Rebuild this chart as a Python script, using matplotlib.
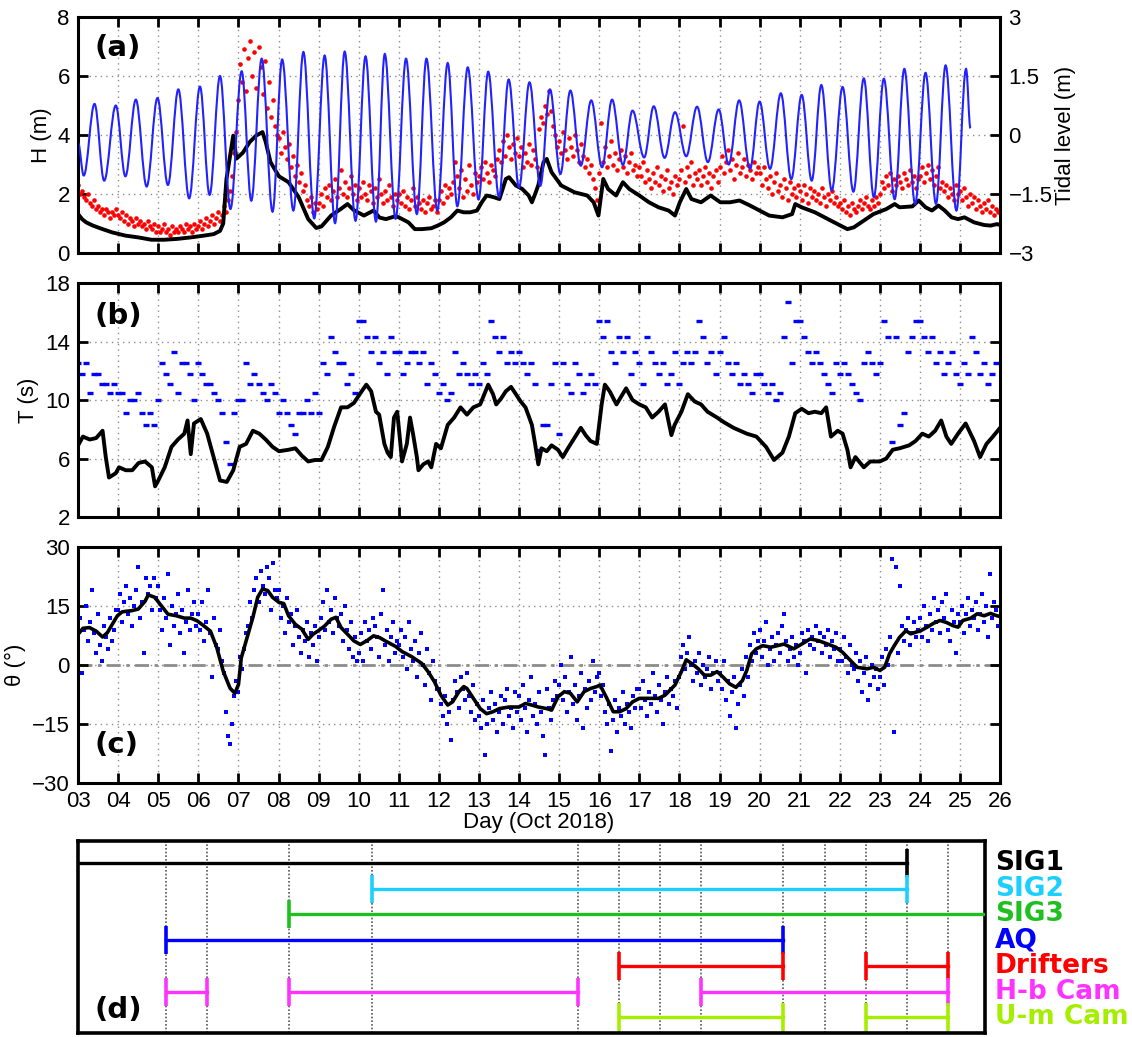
import numpy as np
import matplotlib.pyplot as plt
from matplotlib.path import Path
from matplotlib.patches import PathPatch

plt.rcParams['font.family'] = ['Liberation Sans', 'DejaVu Sans']
plt.rcParams['font.size'] = 16

# ---- tidal level (m): start point, alternating low / high waters, end point ----
tide_day = [3.00, 3.14, 3.41, 3.65, 3.94, 4.18, 4.44, 4.71, 4.98, 5.24, 5.50, 5.77,
            6.04, 6.28, 6.54, 6.80, 7.08, 7.32, 7.58, 7.85, 8.09, 8.37, 8.62, 8.89,
            9.15, 9.41, 9.65, 9.92, 10.17, 10.43, 10.65, 10.92, 11.18, 11.45, 11.69,
            11.96, 12.22, 12.46, 12.72, 12.99, 13.23, 13.50, 13.74, 14.00, 14.26, 14.53,
            14.77, 15.03, 15.28, 15.54, 15.80, 16.07, 16.32, 16.59, 16.83, 17.12, 17.36,
            17.63, 17.89, 18.17, 18.44, 18.71, 18.98, 19.23, 19.49, 19.76, 20.00, 20.26,
            20.53, 20.79, 21.05, 21.30, 21.54, 21.80, 22.07, 22.34, 22.60, 22.85, 23.10,
            23.37, 23.61, 23.88, 24.14, 24.40, 24.64, 24.91, 25.15, 25.26]
tide_level = [-0.20, -1.03, 0.79, -1.16, 0.75, -1.05, 0.90, -1.31, 0.94, -1.27, 1.16, -1.61,
              1.23, -1.52, 1.50, -1.88, 1.62, -1.67, 1.94, -1.95, 1.92, -1.92, 2.11, -2.12,
              2.02, -2.24, 2.12, -2.18, 2.00, -2.20, 2.06, -2.13, 1.94, -2.01, 1.94,
              -1.92, 1.83, -1.81, 1.72, -1.64, 1.61, -1.58, 1.41, -1.33, 1.34, -1.29,
              1.16, -0.99, 1.13, -0.78, 0.88, -0.82, 0.90, -0.76, 0.62, -0.57, 0.73,
              -0.58, 0.58, -0.54, 0.72, -0.69, 0.65, -0.75, 0.88, -0.86, 0.85, -0.86,
              1.06, -1.12, 1.02, -1.16, 1.27, -1.41, 1.22, -1.44, 1.44, -1.58, 1.43,
              -1.63, 1.68, -1.75, 1.58, -1.75, 1.77, -1.92, 1.68, 0.17]

# ---- significant wave height (m), black line ----
h_day = [3.00, 3.10, 3.20, 3.37, 3.61, 3.85, 4.18, 4.50, 4.83, 5.15, 5.48, 5.81, 6.14,
         6.38, 6.54, 6.62, 6.70, 6.78, 6.87, 6.95, 7.11, 7.28, 7.44, 7.60, 7.68, 7.80,
         8.01, 8.25, 8.50, 8.74, 8.94, 9.07, 9.31, 9.55, 9.72, 9.88, 10.13, 10.37, 10.52,
         10.68, 10.92, 11.00, 11.24, 11.40, 11.57, 11.81, 11.97, 12.13, 12.30, 12.46,
         12.62, 12.78, 12.95, 13.07, 13.19, 13.35, 13.51, 13.67, 13.75, 13.92, 14.08,
         14.24, 14.32, 14.40, 14.48, 14.61, 14.69, 14.81, 15.05, 15.38, 15.70, 15.86,
         15.98, 16.10, 16.22, 16.42, 16.59, 16.75, 17.00, 17.24, 17.48, 17.73, 17.89,
         18.01, 18.17, 18.30, 18.54, 18.78, 19.02, 19.26, 19.50, 19.76, 20.00, 20.24,
         20.57, 20.81, 20.89, 21.05, 21.38, 21.62, 21.86, 22.19, 22.35, 22.60, 22.84,
         23.16, 23.37, 23.49, 23.81, 23.97, 24.14, 24.30, 24.46, 24.62, 24.79, 24.95,
         25.11, 25.35, 25.60, 25.76, 25.92, 26.00]
h_val = [1.32, 1.15, 1.04, 0.93, 0.81, 0.70, 0.59, 0.53, 0.45, 0.45, 0.48, 0.53, 0.59,
         0.64, 0.75, 1.00, 2.50, 3.20, 3.98, 3.20, 3.40, 3.76, 3.98, 4.10, 3.76, 3.08,
         2.60, 2.40, 1.90, 1.15, 0.85, 0.90, 1.27, 1.49, 1.66, 1.45, 1.27, 1.44, 1.20,
         1.15, 1.25, 1.21, 1.04, 0.81, 0.81, 0.84, 0.93, 1.04, 1.21, 1.44,
         1.38, 1.38, 1.44, 1.72, 1.95, 1.90, 1.83, 2.51, 2.57, 2.29, 2.17,
         1.95, 1.72, 2.00, 2.30, 3.08, 3.19, 2.74, 2.29, 2.06, 1.95, 1.72,
         1.27, 2.51, 2.17, 1.95, 2.40, 2.17, 1.95, 1.72, 1.55, 1.44, 1.27,
         1.72, 2.17, 1.83, 1.72, 1.95, 1.72, 1.72, 1.78, 1.61, 1.44, 1.27,
         1.21, 1.32, 1.66, 1.55, 1.38, 1.21, 1.04, 0.81, 0.87, 1.10, 1.32,
         1.49, 1.66, 1.55, 1.58, 1.78, 1.55, 1.44, 1.61, 1.44, 1.21, 1.15,
         1.21, 1.04, 0.95, 0.93, 0.98, 0.95]

# ---- maximum wave height (m), red dots, one every 0.05 day from 3 Oct ----
dot_step = 0.05
red_h = [
    2.3, 2.0, 2.1, 1.9, 1.8, 2.0, 1.7, 1.6, 1.8, 1.5, 1.6, 1.4, 1.5, 1.3, 1.5, 1.4, 1.2, 1.4, 1.3, 1.5,
    1.3, 1.2, 1.4, 1.1, 1.3, 1.0, 1.2, 1.1, 0.9, 1.2, 1.0, 1.1, 0.9, 1.0, 0.8, 1.1, 0.9, 0.8, 1.0, 0.7,
    0.9, 0.7, 0.8, 1.0, 0.7, 0.8, 0.6, 0.9, 0.7, 0.8, 0.7, 0.9, 0.8, 0.7, 1.0, 0.8, 0.9, 0.7, 1.0, 0.8,
    0.9, 1.1, 0.8, 1.0, 1.2, 0.9, 1.1, 1.3, 1.0, 1.2, 1.4, 1.1, 1.3, 1.6, 1.4, 1.8, 2.1, 2.6, 3.4, 4.1,
    5.2, 6.4, 5.8, 6.9, 5.5, 6.6, 7.2, 6.0, 6.8, 5.6, 7.0, 6.3, 5.4, 6.5, 4.9, 5.8, 4.6, 5.2, 4.3, 4.0,
    3.9, 3.4, 4.1, 3.6, 3.2, 3.7, 2.9, 3.3, 2.6, 3.0, 2.4, 2.7, 2.1, 2.3, 1.8, 1.6, 1.9, 1.4, 1.7, 1.5,
    1.7, 2.0, 1.6, 2.2, 1.9, 2.3, 1.8, 2.1, 2.5, 1.9, 2.2, 2.8, 2.0, 2.4, 1.9, 2.2, 2.6, 2.0, 2.3, 1.8,
    2.2, 1.9, 2.4, 2.0, 1.8, 2.3, 2.1, 1.7, 2.2, 1.9, 2.5, 2.0, 1.7, 2.1, 1.8, 2.3, 1.9, 1.6, 2.0, 1.8,
    2.0, 1.7, 2.1, 1.6, 1.9, 1.5, 1.8, 2.2, 1.6, 1.9, 1.7, 1.5, 1.8, 1.4, 1.7, 1.9, 1.5, 1.6, 1.8, 1.4,
    1.8, 2.1, 1.7, 2.3, 1.9, 2.2, 2.0, 2.4, 3.1, 2.6, 2.2, 2.8, 1.9, 2.5, 2.1, 3.0, 2.3, 2.0, 2.7, 2.4,
    2.6, 2.9, 2.5, 3.1, 2.7, 2.4, 3.0, 2.8, 2.6, 3.2, 3.5, 3.1, 3.8, 3.3, 4.0, 3.6, 3.2, 3.7, 3.4, 3.9,
    3.3, 3.6, 2.9, 3.4, 3.1, 3.7, 3.0, 3.5, 3.2, 2.9, 4.2, 4.6, 4.4, 5.0, 4.7, 5.5, 4.8, 4.3, 4.0, 3.6,
    3.8, 3.4, 4.1, 3.5, 3.2, 3.9, 3.6, 3.3, 4.0, 3.5, 3.1, 3.7, 3.3, 2.9, 3.2, 2.7, 3.0, 2.5, 2.2, 1.8,
    2.7, 4.4, 3.1, 3.6, 2.9, 3.3, 3.8, 3.0, 3.4, 2.8, 3.2, 3.5, 2.9, 3.3, 2.7, 3.1, 3.4, 2.8, 3.0, 2.6,
    2.9, 2.6, 3.1, 2.4, 2.8, 2.5, 2.2, 2.7, 2.4, 2.9, 2.3, 2.6, 2.1, 2.5, 2.8, 2.2, 2.4, 2.0, 2.6, 2.3,
    2.5, 2.8, 4.3, 2.4, 2.9, 2.6, 3.1, 2.3, 2.7, 2.5, 2.8, 2.3, 2.6, 2.9, 2.4, 2.7, 2.2, 2.6, 2.8, 2.4,
    2.9, 3.3, 2.7, 3.1, 3.5, 2.8, 3.2, 2.5, 3.0, 3.4, 2.7, 2.9, 3.2, 2.6, 3.0, 2.8, 2.5, 3.1, 2.7, 2.9,
    2.7, 2.3, 2.9, 2.5, 2.2, 2.6, 2.0, 2.4, 2.7, 2.1, 2.3, 1.9, 2.5, 2.2, 1.8, 2.4, 2.0, 2.2, 1.9, 2.3,
    2.1, 1.8, 2.3, 2.0, 1.7, 2.2, 1.9, 2.1, 1.8, 2.0, 1.7, 2.2, 1.9, 1.6, 2.0, 1.8, 2.1, 1.7, 1.9, 1.6,
    1.7, 1.5, 1.8, 1.4, 1.6, 1.3, 1.7, 1.5, 1.4, 1.6, 1.8, 1.5, 1.7, 1.9, 1.6, 1.5, 1.8, 1.6, 1.9, 1.7,
    2.0, 2.4, 2.2, 2.6, 2.3, 2.7, 2.1, 2.5, 2.3, 2.6, 2.4, 2.2, 2.7, 2.5, 2.3, 2.8, 2.4, 2.6, 2.2, 2.5,
    2.6, 2.9, 2.4, 2.7, 3.0, 2.5, 2.8, 2.3, 2.6, 2.9, 2.2, 2.4, 2.1, 2.3, 1.9, 2.2, 2.0, 1.8, 2.3, 2.0,
    2.1, 1.8, 2.2, 1.9, 1.6, 2.0, 1.7, 1.9, 1.5, 1.8, 1.6, 1.4, 1.7, 1.5, 1.8, 1.4, 1.6, 1.3, 1.5, 1.4]

# ---- mean wave period (s), black line ----
t_day = [3.00, 3.12, 3.29, 3.45, 3.61, 3.69, 3.77, 3.94, 4.02, 4.19, 4.35, 4.51, 4.67,
         4.84, 4.92, 5.00, 5.16, 5.33, 5.49, 5.65, 5.73, 5.81, 5.89, 6.06, 6.22, 6.38,
         6.54, 6.71, 6.87, 7.03, 7.19, 7.36, 7.52, 7.68, 7.85, 8.01, 8.25, 8.42, 8.58,
         8.74, 8.91, 9.07, 9.23, 9.39, 9.56, 9.72, 9.88, 10.05, 10.19, 10.31, 10.43,
         10.51, 10.64, 10.72, 10.80, 10.88, 10.96, 11.04, 11.08, 11.20, 11.28, 11.36,
         11.45, 11.49, 11.61, 11.73, 11.81, 11.93, 12.05, 12.22, 12.38, 12.54, 12.70,
         12.86, 13.03, 13.23, 13.35, 13.43, 13.55, 13.67, 13.80, 13.92, 14.04, 14.16,
         14.32, 14.40, 14.48, 14.56, 14.69, 14.81, 14.97, 15.09, 15.22, 15.38, 15.54,
         15.66, 15.78, 15.94, 16.06, 16.14, 16.26, 16.43, 16.67, 16.83, 17.00, 17.16,
         17.32, 17.48, 17.64, 17.80, 17.88, 18.05, 18.21, 18.38, 18.54, 18.70, 18.94,
         19.10, 19.35, 19.68, 19.92, 20.16, 20.36, 20.57, 20.73, 20.89, 21.05, 21.22,
         21.38, 21.54, 21.66, 21.78, 21.95, 22.07, 22.19, 22.27, 22.39, 22.60, 22.76,
         23.00, 23.16, 23.32, 23.49, 23.73, 23.89, 24.06, 24.22, 24.38, 24.53, 24.66,
         24.78, 24.95, 25.14, 25.35, 25.50, 25.66, 25.82, 26.00]
t_val = [6.9, 7.5, 7.3, 7.4, 7.9, 6.1, 4.7, 5.0, 5.4, 5.2, 5.2, 5.7, 5.8,
         5.4, 4.1, 4.5, 5.4, 6.8, 7.3, 7.7, 8.6, 6.3, 8.4, 8.7, 7.7, 6.1,
         4.5, 4.4, 5.2, 6.8, 7.0, 7.9, 7.7, 7.3, 6.8, 6.5, 6.6, 6.7, 6.2,
         5.8, 5.9, 5.9, 6.8, 8.2, 9.5, 9.5, 9.8, 10.5, 11.05, 10.6, 9.2,
         9.0, 7.0, 6.4, 6.1, 8.8, 9.2, 7.0, 5.8, 7.0, 8.8, 7.6,
         6.1, 5.2, 5.6, 5.8, 5.4, 7.0, 6.7, 8.3, 8.8, 9.5, 9.0,
         9.5, 9.7, 11.05, 10.4, 9.7, 10.1, 10.6, 10.9, 10.4, 9.9, 9.5,
         8.3, 7.0, 5.6, 6.7, 6.5, 6.9, 6.6, 6.1, 6.7, 7.4, 8.1,
         7.6, 7.2, 7.0, 9.7, 11.05, 10.6, 9.7, 10.8, 10.0, 9.7, 9.5,
         8.8, 9.2, 9.7, 7.6, 8.3, 9.2, 10.4, 9.9, 9.7, 9.2, 8.8,
         8.5, 8.1, 7.7, 7.5, 6.8, 5.9, 6.4, 7.5, 9.1, 9.4, 9.1,
         9.2, 9.1, 9.5, 7.5, 7.9, 7.7, 6.6, 5.4, 6.1, 5.4, 5.8,
         5.8, 6.0, 6.6, 6.7, 6.9, 7.2, 7.7, 7.5, 7.9, 8.6, 7.5,
         7.0, 7.7, 8.4, 7.2, 6.1, 7.0, 7.5, 8.1]

# ---- peak wave period (s), blue dots, one every 0.1 day from 3 Oct ----
tp_step = 0.1
tp_dots = [
    12.5, 11.8, 12.5, 10.5, 11.8, 11.8, 11.1, 11.1, 10.5, 11.1,
    10.5, 10.5, 9.1, 10.0, 10.0, 10.5, 9.1, 8.3, 9.1, 8.3,
    10.0, 12.5, 11.8, 11.1, 13.3, 10.5, 12.5, 12.5, 11.8, 10.0,
    12.5, 11.8, 11.1, 11.1, 10.5, 10.0, 9.1, 7.1, 5.6, 9.1,
    10.0, 10.0, 12.5, 11.1, 11.8, 11.1, 10.5, 10.0, 11.1, 10.5,
    9.1, 10.0, 9.1, 8.3, 7.7, 9.1, 9.1, 10.0, 9.1, 10.5,
    9.1, 12.5, 11.8, 14.3, 13.3, 12.5, 12.5, 11.1, 11.8, 10.5,
    15.4, 15.4, 14.3, 13.3, 14.3, 12.5, 13.3, 11.8, 14.3, 13.3,
    13.3, 11.8, 12.5, 13.3, 13.3, 12.5, 13.3, 11.1, 12.5, 11.8,
    10.5, 11.1, 10.0, 10.5, 13.3, 11.8, 12.5, 11.8, 11.1, 11.8,
    11.1, 12.5, 11.8, 15.4, 14.3, 13.3, 14.3, 12.5, 13.3, 12.5,
    13.3, 12.5, 11.8, 12.5, 11.1, 6.6, 8.3, 8.3, 11.1, 12.5,
    7.7, 12.5, 11.1, 10.5, 12.5, 11.8, 10.5, 11.1, 11.8, 11.1,
    15.4, 14.3, 15.4, 13.3, 12.5, 14.3, 13.3, 14.3, 11.8, 13.3,
    12.5, 11.1, 14.3, 13.3, 12.5, 11.8, 12.5, 11.1, 11.8, 13.3,
    11.1, 12.5, 13.3, 12.5, 13.3, 15.4, 14.3, 12.5, 13.3, 11.8,
    13.3, 14.3, 12.5, 11.8, 12.5, 11.1, 11.8, 11.1, 10.5, 11.8,
    11.8, 11.1, 10.5, 11.1, 10.0, 10.5, 14.3, 16.7, 12.5, 15.4,
    15.4, 14.3, 13.3, 12.5, 13.3, 12.5, 11.8, 11.1, 10.5, 12.5,
    11.8, 12.5, 11.8, 11.1, 10.5, 10.0, 12.5, 13.3, 12.5, 11.8,
    12.5, 15.4, 14.3, 7.1, 14.3, 8.3, 9.1, 13.3, 14.3, 15.4,
    15.4, 14.3, 13.3, 14.3, 12.5, 13.3, 11.8, 12.5, 13.3, 11.8,
    11.1, 12.5, 11.8, 14.3, 13.3, 11.8, 12.5, 11.1, 11.8, 12.5]

# ---- mean wave direction (deg), black line ----
th_day = [3.00, 3.12, 3.28, 3.45, 3.61, 3.73, 3.85, 3.98, 4.10, 4.34, 4.50, 4.67, 4.75,
          4.91, 5.08, 5.24, 5.45, 5.65, 5.81, 5.97, 6.14, 6.30, 6.46, 6.62, 6.79, 6.91,
          7.00, 7.07, 7.19, 7.36, 7.48, 7.60, 7.73, 7.85, 8.01, 8.13, 8.25, 8.42, 8.58,
          8.74, 8.86, 8.98, 9.15, 9.31, 9.43, 9.56, 9.72, 9.88, 10.04, 10.21, 10.37,
          10.53, 10.68, 10.92, 11.08, 11.32, 11.57, 11.73, 11.89, 12.05, 12.22, 12.34,
          12.50, 12.62, 12.70, 12.86, 13.03, 13.19, 13.35, 13.51, 13.75, 14.00, 14.16,
          14.32, 14.48, 14.69, 14.81, 14.97, 15.13, 15.28, 15.45, 15.62, 15.78, 15.94,
          16.02, 16.19, 16.35, 16.51, 16.67, 16.83, 17.00, 17.24, 17.48, 17.64, 17.89,
          18.05, 18.17, 18.30, 18.46, 18.62, 18.78, 18.94, 19.10, 19.25, 19.41, 19.57,
          19.68, 19.80, 19.92, 20.08, 20.28, 20.45, 20.61, 20.85, 21.05, 21.26, 21.46,
          21.70, 21.90, 22.07, 22.27, 22.43, 22.68, 22.84, 23.00, 23.12, 23.24, 23.36,
          23.49, 23.65, 23.77, 23.89, 24.02, 24.18, 24.34, 24.50, 24.66, 24.82, 24.95,
          25.07, 25.27, 25.43, 25.60, 25.76, 25.92, 26.00]
th_val = [7.8, 9.3, 9.5, 8.6, 7.1, 8.2, 10.3, 12.5, 13.5, 13.8, 14.2, 16.2, 17.8,
          17.2, 15.0, 12.9, 12.5, 11.9, 11.9, 11.2, 9.9, 8.6, 4.4, -1.6, -5.9, -7.2,
          -5.0, 1.8, 6.1, 12.1, 17.2, 19.3, 18.9, 17.2, 15.9, 15.6, 12.5, 10.3, 9.1,
          6.5, 7.8, 8.6, 9.9, 11.6, 12.1, 9.5, 7.8, 6.1, 5.2, 6.2, 7.4,
          6.9, 6.0, 4.7, 3.4, 2.1, 0.4, -1.7, -4.3, -7.7, -10.2, -9.4,
          -6.8, -5.5, -6.0, -8.5, -11.1, -12.4, -11.9, -11.1, -10.7, -10.7, -9.8,
          -10.2, -10.7, -11.1, -11.5, -8.1, -6.8, -7.2, -9.4, -6.8, -6.0, -5.5,
          -5.1, -8.5, -11.9, -11.9, -11.1, -9.4, -8.5, -8.5, -8.5, -7.7, -5.1,
          -1.7, 1.3, 0.4, -0.9, -2.6, -2.6, -1.7, -3.2, -4.8, -5.7, -4.0,
          -1.4, 2.8, 4.1, 4.9, 4.5, 4.9, 5.3, 4.1, 5.3, 6.6, 6.2,
          5.3, 4.5, 3.2, 1.1, -0.6, -1.0, -0.6, -1.4, -0.6, 2.8, 4.9,
          7.0, 8.7, 7.9, 8.3, 8.7, 9.6, 10.6, 11.3, 10.8, 10.0, 9.6,
          11.3, 11.9, 13.0, 12.5, 13.1, 12.5, 12.3]

# ---- wave direction estimates (deg), blue dots, one every 0.05 day from 3 Oct ----
th_dots = [
    4, 12, -2, 9, 15, 6, 11, 19, 8, 3, 13, 5, 1, 10, 7, 4, 12, 6, 9, 14,
    14, 18, 11, 16, 20, 13, 17, 10, 15, 19, 25, 12, 16, 3, 22, 18, 20, 14, 22, 17,
    20, 14, 9, 17, 12, 23, 5, 15, 10, 13, 18, 8, 14, 3, 11, 19, 9, 13, 16, 10,
    13, 9, 16, 6, 11, 19, 8, -3, 12, 5, 4, 9, 1, -2, -12, -18, -20, -15, -8, -4,
    -7, 2, -1, 4, 8, 10, 16, 12, 19, 22, 16, 24, 20, 18, 25, 22, 14, 26, 19, 17,
    19, 12, 15, 8, 17, 11, 13, 5, 10, 14, 7, 3, 9, 6, 11, 2, 8, 5, 10, 1,
    7, 12, 16, 9, 19, 11, 14, 8, 17, 12, 10, 13, 6, 15, 9, 4, 11, 2, 7, 1,
    3, 8, 1, 11, 6, 9, 4, 12, 10, 7, 2, 13, 19, 5, 9, 1, 7, 11, 3, 6,
    5, 9, 2, 7, -1, 11, 4, 1, 6, -3, 3, 8, 0, -5, 4, -2, -9, 1, -4, -6,
    -6, -10, -13, -8, -15, -12, -19, -9, -4, -7, -11, -3, -6, -9, -2, -8, -12, -5, -14, -10,
    -13, -16, -9, -23, -15, -11, -7, -14, -10, -17, -12, -8, -15, -9, -6, -13, -11, -16, -7, -12,
    -8, -14, -5, -11, -17, -9, -3, -13, -10, -15, -7, -12, -18, -23, -6, -11, -14, -9, -4, -8,
    -5, 0, -9, -3, -12, -7, 2, -10, -5, -14, -8, -2, -16, -6, -11, -4, -9, 1, -7, -3,
    -2, -8, -5, -12, -15, -10, -22, -14, -9, -17, -11, -13, -7, -15, -10, -12, -16, -8, -11, -6,
    -6, -11, -4, -9, -13, -7, -10, -2, -8, -12, -5, -9, -15, -7, -3, -10, -6, -8, -4, -11,
    -3, 2, 5, -1, 3, 7, 0, -4, 1, -2, 3, -5, 0, -3, -1, 2, -6, -2, 1, -4,
    -2, -6, 1, -9, -4, -13, -7, -3, -16, -10, -5, -1, -8, 2, -3, 5, 1, 8, 3, 6,
    9, 2, 6, 11, 0, 4, 7, 1, 5, 8, 3, 10, 13, 6, 1, 4, 7, 2, 5, 0,
    3, 8, 6, -2, 9, 5, 7, 4, 10, 6, 8, 3, 7, 5, 9, 2, 6, 4, 8, 1,
    4, 1, 7, 2, -2, 5, 0, -1, 3, -4, 1, -7, -2, 2, -9, -5, 0, -3, -1, -6,
    -3, 2, -5, 4, 0, 7, 27, -17, 25, 3, 20, 10, 6, 9, 12, 5, 8, 11, 7, 9,
    12, 7, 15, 10, 6, 13, 9, 17, 11, 14, 8, 16, 12, 18, 9, 6, 14, 11, 3, 13,
    11, 15, 8, 13, 17, 10, 14, 12, 16, 9, 13, 18, 11, 15, 7, 23, 12, 16, 14, 10]

# ---- deployment periods (day of October) ----
instruments = ['SIG1', 'SIG2', 'SIG3', 'AQ', 'Drifters', 'H-b Cam', 'U-m Cam']
inst_colors = ['#000000', '#1ccfff', '#1fbf1f', '#0000ff', '#ff0000', '#ff33ff', '#a6ee00']
inst_periods = [[(2, 23)], [(10, 23)], [(8, 27)], [(5, 20)],
                [(16, 20), (22, 24)], [(5, 6), (8, 15), (18, 24)], [(16, 20), (22, 24)]]
d_grid_days = [5, 6, 8, 10, 15, 16, 17, 18, 20, 21, 22, 23, 24]

day_ticks = list(range(3, 27))


def tide_path(days, levels, k=0.364):
    # smooth curve through the tidal extremes, flat tangents at each turning point
    verts = [(days[0], levels[0])]
    codes = [Path.MOVETO]
    for i in range(1, len(days)):
        t0, t1 = days[i - 1], days[i]
        h0, h1 = levels[i - 1], levels[i]
        dt = t1 - t0
        verts += [(t0 + k * dt, h0), (t1 - k * dt, h1), (t1, h1)]
        codes += [Path.CURVE4] * 3
    return Path(verts, codes)


def style_axes(ax, right=True):
    ax.set_xlim(3, 26)
    ax.set_xticks(day_ticks)
    ax.tick_params(direction='in', length=7, width=2, top=True, right=right,
                   labelsize=16, pad=6)
    ax.grid(True, linestyle=(0, (1, 3)), color='0.55', linewidth=1.0)
    for s in ax.spines.values():
        s.set_linewidth(2.2)


fig = plt.figure(figsize=(11.32, 10.37), dpi=100)

# (a) wave height and tide
ax_a = fig.add_axes([0.069, 0.756, 0.8145, 0.2276])
style_axes(ax_a, right=False)
ax_a.set_xticklabels([])
ax_a.set_ylim(0, 8)
ax_a.set_yticks([0, 2, 4, 6, 8])
ax_a.set_ylabel('H (m)')
red_day = 3 + dot_step * np.arange(len(red_h))
ax_a.plot(red_day, red_h, 'o', color='#ff0000', ms=3.3, mew=0, zorder=2)
ax_a.plot(h_day, h_val, '-', color='k', lw=2.8, zorder=3)
ax_a.text(0.018, 0.87, '(a)', transform=ax_a.transAxes, fontsize=21,
          fontweight='bold', family='DejaVu Sans', va='center')

ax_tide = ax_a.twinx()
ax_tide.set_ylim(-3, 3)
ax_tide.set_yticks([-3, -1.5, 0, 1.5, 3])
ax_tide.set_yticklabels(['\u22123', '\u22121.5', '0', '1.5', '3'])
ax_tide.tick_params(direction='in', length=7, width=2, labelsize=16, pad=6)
ax_tide.set_ylabel('Tidal level (m)', labelpad=2)
ax_tide.add_patch(PathPatch(tide_path(tide_day, tide_level), fill=False,
                            edgecolor='#2222ff', lw=1.5))

# (b) wave period
ax_b = fig.add_axes([0.069, 0.5014, 0.8145, 0.2257])
style_axes(ax_b)
ax_b.set_xticklabels([])
ax_b.set_ylim(2, 18)
ax_b.set_yticks([2, 6, 10, 14, 18])
ax_b.set_ylabel('T (s)')
tp_day = 3 + tp_step * np.arange(len(tp_dots))
ax_b.plot(tp_day, tp_dots, '_', color='#0000ff', ms=5, mew=2.4, zorder=2)
ax_b.plot(t_day, t_val, '-', color='k', lw=2.8, zorder=3)
ax_b.text(0.018, 0.86, '(b)', transform=ax_b.transAxes, fontsize=21,
          fontweight='bold', family='DejaVu Sans', va='center')

# (c) wave direction
ax_c = fig.add_axes([0.069, 0.245, 0.8145, 0.2276])
style_axes(ax_c)
ax_c.set_xticklabels(['%02d' % d for d in day_ticks])
ax_c.set_ylim(-30, 30)
ax_c.set_yticks([-30, -15, 0, 15, 30])
ax_c.set_ylabel('\u03b8 (\u00b0)')
ax_c.set_xlabel('Day (Oct 2018)', labelpad=0)
ax_c.axhline(0, color='0.55', lw=2, ls=(0, (5, 2, 1.2, 2)), zorder=1)
th_dot_day = 3 + dot_step * np.arange(len(th_dots))
ax_c.plot(th_dot_day, th_dots, 's', color='#0000ff', ms=2.8, mew=0, zorder=2)
ax_c.plot(th_day, th_val, '-', color='k', lw=2.6, zorder=3)
ax_c.text(0.018, 0.16, '(c)', transform=ax_c.transAxes, fontsize=21,
          fontweight='bold', family='DejaVu Sans', va='center')

# (d) instrument deployment timeline
ax_d = fig.add_axes([0.069, 0.0039, 0.801, 0.1854])
ax_d.set_xlim(2.87, 24.89)
ax_d.set_ylim(6.61, -0.87)
ax_d.set_xticks([])
ax_d.set_yticks([])
for s in ax_d.spines.values():
    s.set_linewidth(2.6)
for d in d_grid_days:
    ax_d.axvline(d, color='0.35', lw=1.2, ls=(0, (1, 1.2)), zorder=1)
for i, (name, col, spans) in enumerate(zip(instruments, inst_colors, inst_periods)):
    for start, end in spans:
        ax_d.plot([start, end], [i, i], '-', color=col, lw=2.4, marker='|',
                  ms=20, mew=2.6, zorder=3)
    ax_d.text(1.011, i, name, transform=ax_d.get_yaxis_transform(), color=col,
              fontsize=19, fontweight='bold', family='DejaVu Sans', va='center',
              ha='left')
ax_d.text(0.018, 0.12, '(d)', transform=ax_d.transAxes, fontsize=21,
          fontweight='bold', family='DejaVu Sans', va='center')

fig.savefig('out.png', dpi=100)
